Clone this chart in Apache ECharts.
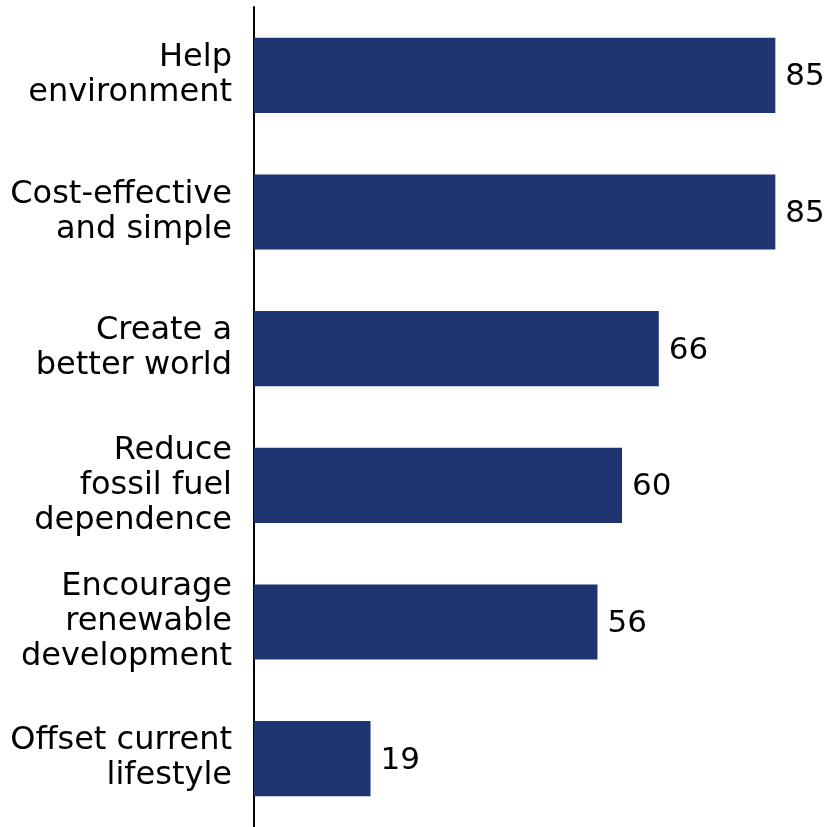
<!DOCTYPE html>
<html>
<head>
<meta charset="utf-8">
<script src="https://cdn.jsdelivr.net/npm/echarts@6/dist/echarts.min.js"></script>
<style>
  html, body { margin: 0; padding: 0; background: #ffffff; }
  #chart { width: 828px; height: 827px; }
</style>
</head>
<body>
<div id="chart"></div>
<script>
// Reasons given, share of respondents (%)
const categories = [
  'Help\nenvironment',
  'Cost-effective\nand simple',
  'Create a\nbetter world',
  'Reduce\nfossil fuel\ndependence',
  'Encourage\nrenewable\ndevelopment',
  'Offset current\nlifestyle'
];
const values = [85, 85, 66, 60, 56, 19];

const chart = echarts.init(document.getElementById('chart'), null, { renderer: 'canvas' });
chart.setOption({
  animation: false,
  backgroundColor: '#ffffff',
  grid: { left: 254, right: 22, top: 7, bottom: -4, containLabel: false },
  xAxis: {
    type: 'value',
    min: 0,
    max: 90,
    show: false
  },
  yAxis: {
    type: 'category',
    inverse: true,
    data: categories,
    axisLine: { show: true, lineStyle: { color: '#000000', width: 2 } },
    axisTick: { show: false },
    axisLabel: {
      margin: 22,
      color: '#000000',
      fontFamily: 'DejaVu Sans',
      fontSize: 32,
      lineHeight: 35,
      padding: [8, 0, 0, 0],
      align: 'right'
    }
  },
  series: [{
    type: 'bar',
    data: values,
    barCategoryGap: '45%',
    itemStyle: { color: '#1f3572' },
    label: {
      show: true,
      position: 'right',
      distance: 10,
      offset: [0, 2],
      color: '#000000',
      fontFamily: 'DejaVu Sans',
      fontSize: 31
    }
  }]
});
</script>
</body>
</html>
